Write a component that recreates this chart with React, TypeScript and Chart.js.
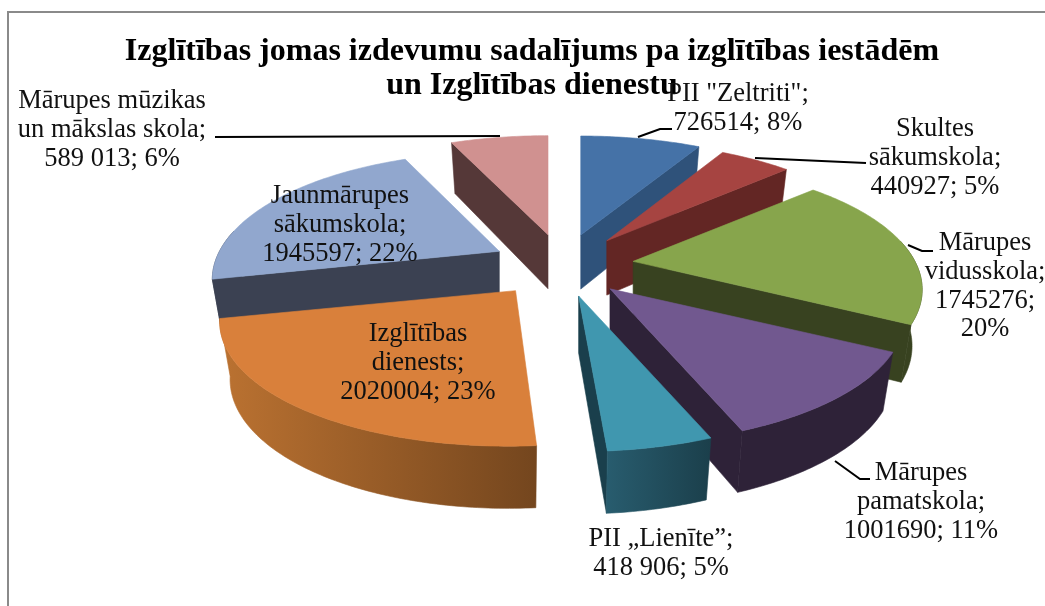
import React, { useEffect, useRef } from "react";
import { Chart, registerables } from "chart.js";

Chart.register(...registerables);

const titleLines = ["Izglītības jomas izdevumu sadalījums pa izglītības iestādēm", "un Izglītības dienestu"];
const categories = [
  'PII "Zeltriti"',
  "Skultes sākumskola",
  "Mārupes vidusskola",
  "Mārupes pamatskola",
  "PII „Lienīte”",
  "Izglītības dienests",
  "Jaunmārupes sākumskola",
  "Mārupes mūzikas un mākslas skola",
];
const values = [726514, 440927, 1745276, 1001690, 418906, 2020004, 1945597, 589013];
const labelLines = [
  ['PII "Zeltriti";', "726514; 8%"],
  ["Skultes", "sākumskola;", "440927; 5%"],
  ["Mārupes", "vidusskola;", "1745276;", "20%"],
  ["Mārupes", "pamatskola;", "1001690; 11%"],
  ["PII „Lienīte”;", "418 906; 5%"],
  ["Izglītības", "dienests;", "2020004; 23%"],
  ["Jaunmārupes", "sākumskola;", "1945597; 22%"],
  ["Mārupes mūzikas", "un mākslas skola;", "589 013; 6%"],
];
const topColors = ["#4572a7", "#a64441", "#87a54c", "#71588f", "#4097af", "#d9803b", "#91a7ce", "#d09190"];
const cutColors = ["#2f527a", "#632624", "#384220", "#2e2238", "#1a3f4c", "#75471e", "#3b4152", "#553838"];
const wallColors: string[][] = [
  ["#2f527a", "#2f527a"],
  ["#632624", "#632624"],
  ["#384220", "#384220"],
  ["#2e2238", "#2e2238"],
  ["#285c6e", "#1b3f4b"],
  ["#bb7231", "#74461e"],
  ["#3b4152", "#3b4152"],
  ["#553838", "#553838"],
];
const paintOrder = [0, 7, 1, 6, 2, 5, 3, 4];

// small per-slice fit of the projected shape: x shift, x scale, x shear
const sliceFit = [
  { dx: 0, sx: 1, skew: 0 },
  { dx: 0, sx: 0.98, skew: 0 },
  { dx: 0, sx: 0.982, skew: 0 },
  { dx: 0, sx: 1, skew: 0 },
  { dx: 0, sx: 1, skew: 0 },
  { dx: -5, sx: 1, skew: -0.05 },
  { dx: 0, sx: 0.975, skew: 0 },
  { dx: 0, sx: 1, skew: 0 },
];

const labelAnchors = [
  { x: 738, y: 94.5 },
  { x: 935, y: 129.5 },
  { x: 985, y: 243.5 },
  { x: 921, y: 473.5 },
  { x: 661, y: 539.5 },
  { x: 418, y: 334.5 },
  { x: 340, y: 196.5 },
  { x: 112, y: 101.5 },
];
const labelLineHeight = 28.6;
const leaders = [
  [[638, 137], [660, 129], [672, 129]],
  [[755, 158], [866, 163]],
  [[908, 245], [922, 251], [933, 251]],
  [[835, 461], [860, 479], [870, 479]],
  [[215, 137], [500, 136]],
];

const PIE = { cx: 562.7, cy: 265.4, ex: 71, ey: 31.4, rx: 287, ry: 121, persp: 0.222, depth: 55.5 };
const SERIF = '"Liberation Serif", "Times New Roman", serif';

type P = [number, number];

function rel(t: number): P {
  const u = Math.sin(t);
  const v = -Math.cos(t);
  const w = 1 / (1 - PIE.persp * v);
  return [PIE.rx * u * w, PIE.ry * v * w];
}

function poly(ctx: CanvasRenderingContext2D, pts: P[], fill: string | CanvasGradient) {
  ctx.beginPath();
  pts.forEach((p, i) => (i ? ctx.lineTo(p[0], p[1]) : ctx.moveTo(p[0], p[1])));
  ctx.closePath();
  ctx.fillStyle = fill;
  ctx.strokeStyle = fill;
  ctx.lineWidth = 0.6;
  ctx.fill();
  ctx.stroke();
}

const pie3d = {
  id: "pie3d",
  beforeDraw(chart: Chart) {
    const ctx = chart.ctx;
    ctx.save();
    ctx.strokeStyle = "#8a8a8a";
    ctx.lineWidth = 2;
    ctx.beginPath();
    ctx.moveTo(8, 606);
    ctx.lineTo(8, 12);
    ctx.lineTo(1045, 12);
    ctx.stroke();
    ctx.restore();
  },
  beforeDatasetDraw(chart: Chart) {
    const ctx = chart.ctx;
    const arcs = chart.getDatasetMeta(0).data as any[];
    ctx.save();
    paintOrder.forEach((i) => {
      const a0 = arcs[i].startAngle + Math.PI / 2;
      const a1 = arcs[i].endAngle + Math.PI / 2;
      const mid = (a0 + a1) / 2;
      const fit = sliceFit[i];
      const ax = PIE.cx + PIE.ex * Math.sin(mid) + fit.dx;
      const ay = PIE.cy - PIE.ey * Math.cos(mid);
      const by = ay + PIE.depth - 1.5 * Math.cos(mid);
      const shape = (t: number): P => {
        const r = rel(t);
        return [r[0] * fit.sx + r[1] * fit.skew, r[1]];
      };
      const top = (r: P): P => [ax + r[0], ay + r[1]];
      const bot = (r: P): P => [ax + r[0] * 0.965, by + r[1] * 1.035];
      const n = Math.max(8, Math.ceil((a1 - a0) / 0.015));
      const ang = Array.from({ length: n + 1 }, (_, k) => a0 + ((a1 - a0) * k) / n);

      // cut faces
      if (Math.cos(a0 - Math.PI / 2) < 0) {
        poly(ctx, [[ax, ay], top(shape(a0)), bot(shape(a0)), [ax, by]], cutColors[i]);
      }
      if (Math.cos(a1 + Math.PI / 2) < 0) {
        poly(ctx, [[ax, ay], top(shape(a1)), bot(shape(a1)), [ax, by]], cutColors[i]);
      }
      // outer wall
      const lo = Math.max(a0, (80 * Math.PI) / 180);
      const hi = Math.min(a1, (280 * Math.PI) / 180);
      if (hi > lo) {
        const wa = ang.filter((t) => t >= lo && t <= hi);
        wa.unshift(lo);
        wa.push(hi);
        const upper = wa.map((t) => top(shape(t)));
        const lower = wa.map((t) => bot(shape(t))).reverse();
        const xs = upper.map((p) => p[0]);
        const g = ctx.createLinearGradient(Math.min(...xs), 0, Math.max(...xs), 0);
        g.addColorStop(0, wallColors[i][0]);
        g.addColorStop(1, wallColors[i][1]);
        poly(ctx, [...upper, ...lower], g);
      }
      // top surface
      poly(ctx, [[ax, ay], ...ang.map((t) => top(shape(t)))], topColors[i]);
    });
    ctx.restore();
    return false;
  },
  afterDatasetsDraw(chart: Chart) {
    const ctx = chart.ctx;
    ctx.save();
    ctx.strokeStyle = "#000";
    ctx.lineWidth = 2;
    leaders.forEach((l) => {
      ctx.beginPath();
      l.forEach((p, i) => (i ? ctx.lineTo(p[0], p[1]) : ctx.moveTo(p[0], p[1])));
      ctx.stroke();
    });
    ctx.fillStyle = "#111";
    ctx.font = `26.5px ${SERIF}`;
    ctx.textAlign = "center";
    ctx.textBaseline = "middle";
    labelLines.forEach((lines, i) => {
      lines.forEach((s, k) => {
        ctx.fillText(s, labelAnchors[i].x, labelAnchors[i].y + k * labelLineHeight);
      });
    });
    ctx.restore();
  },
};

export default function App() {
  const ref = useRef<HTMLCanvasElement>(null);
  useEffect(() => {
    const chart = new Chart(ref.current as HTMLCanvasElement, {
      type: "pie",
      data: {
        labels: categories,
        datasets: [{ data: values, backgroundColor: topColors, borderWidth: 0 }],
      },
      options: {
        responsive: false,
        animation: false,
        rotation: 0,
        layout: { padding: { left: 19 } },
        plugins: {
          legend: { display: false },
          tooltip: { enabled: false },
          title: {
            display: true,
            text: titleLines,
            color: "#000",
            font: { family: SERIF, size: 32, weight: "bold", lineHeight: "34px" },
            padding: { top: 35, bottom: 0 },
          },
        },
      } as any,
      plugins: [pie3d as any],
    });
    return () => chart.destroy();
  }, []);
  return (
    <canvas
      ref={ref}
      width={1045}
      height={606}
      style={{ position: "absolute", left: 0, top: 0, display: "block" }}
    />
  );
}
